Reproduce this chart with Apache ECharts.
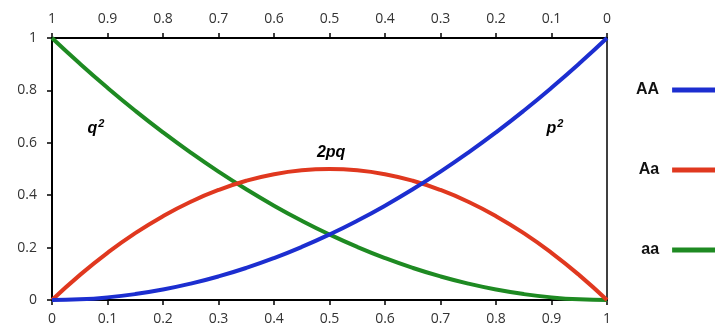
<!DOCTYPE html>
<html>
<head>
<meta charset="utf-8">
<script src="https://cdn.jsdelivr.net/npm/echarts@6/dist/echarts.min.js"></script>
<style>
html, body { margin: 0; padding: 0; background: #fff; }
#chart { width: 715px; height: 328px; }
</style>
</head>
<body>
<div id="chart"></div>
<script>
// allele frequency p (bottom axis), q = 1 - p on top
var pValues = [0, 0.05, 0.1, 0.15, 0.2, 0.25, 0.3, 0.35, 0.4, 0.45, 0.5, 0.55, 0.6, 0.65, 0.7, 0.75, 0.8, 0.85, 0.9, 0.95, 1];
var AA = [0, 0.0025, 0.01, 0.0225, 0.04, 0.0625, 0.09, 0.1225, 0.16, 0.2025, 0.25, 0.3025, 0.36, 0.4225, 0.49, 0.5625, 0.64, 0.7225, 0.81, 0.9025, 1];
var Aa = [0, 0.095, 0.18, 0.255, 0.32, 0.375, 0.42, 0.455, 0.48, 0.495, 0.5, 0.495, 0.48, 0.455, 0.42, 0.375, 0.32, 0.255, 0.18, 0.095, 0];
var aa = [1, 0.9025, 0.81, 0.7225, 0.64, 0.5625, 0.49, 0.4225, 0.36, 0.3025, 0.25, 0.2025, 0.16, 0.1225, 0.09, 0.0625, 0.04, 0.0225, 0.01, 0.0025, 0];
var seriesNames = ['AA', 'Aa', 'aa'];
var seriesColors = ['#1c2ed0', '#e0381f', '#1e8a22'];
// curve annotations: text, p, frequency
var curveLabels = [['q', 0.079, 0.656], ['2pq', 0.503, 0.561], ['p', 0.906, 0.656]];

var chart = echarts.init(document.getElementById('chart'));
var font = 'Open Sans';

function pairs(ys) {
    var out = [];
    pValues.forEach(function(p, i) { out.push([p, ys[i]]); });
    return out;
}

var lab = { fontFamily: font, fontSize: 14, color: '#333' };
var axLine = { show: true, onZero: false, lineStyle: { color: '#000', width: 2 } };
var tick = { show: true, length: 5, lineStyle: { color: '#000', width: 1.5 } };

var series = [AA, Aa, aa].map(function(d, i) {
    return {
        name: seriesNames[i], type: 'line', data: pairs(d), smooth: true,
        symbol: 'none', lineStyle: { width: 4, color: seriesColors[i] },
        itemStyle: { color: seriesColors[i] }, z: 3 - i
    };
});

series.push({
    name: 'labels', type: 'scatter', symbolSize: 1, z: 5, silent: true,
    itemStyle: { color: '#fff', opacity: 0 },
    data: curveLabels.map(function(c) { return { value: [c[1], c[2]], name: c[0] }; }),
    label: {
        show: true, position: 'inside', color: '#000', opacity: 1, textBorderWidth: 0,
        formatter: function(p) {
            return p.name === '2pq' ? '{t|2pq}' : '{t|' + p.name + '}{s|2}';
        },
        rich: {
            t: { fontFamily: 'Liberation Sans', fontSize: 16, fontWeight: 'bold', fontStyle: 'italic', color: '#000', textBorderWidth: 0 },
            s: { fontFamily: 'Liberation Sans', fontSize: 11, fontWeight: 'bold', fontStyle: 'italic', color: '#000', textBorderWidth: 0, verticalAlign: 'top', padding: [0, 0, 9, 1] }
        }
    }
});

var option = {
    animation: false,
    backgroundColor: '#fff',
    grid: { left: 52, right: 108, top: 38, bottom: 28 },
    legend: {
        orient: 'vertical', left: 631, top: 77, align: 'right',
        itemGap: 64, itemWidth: 46, itemHeight: 5, icon: 'rect',
        textStyle: { fontFamily: 'Liberation Sans', fontSize: 16, fontWeight: 'bold', color: '#111', padding: [0, 8, 0, 0] },
        data: seriesNames
    },
    xAxis: [{
        type: 'value', min: 0, max: 1, interval: 0.1, position: 'bottom',
        axisLine: axLine, axisTick: tick, splitLine: { show: false },
        axisLabel: Object.assign({ margin: 12 }, lab)
    }, {
        type: 'value', min: 0, max: 1, interval: 0.1, position: 'top', inverse: true,
        axisLine: axLine, axisTick: tick, splitLine: { show: false },
        axisLabel: Object.assign({ margin: 12 }, lab)
    }],
    yAxis: [{
        type: 'value', min: 0, max: 1, interval: 0.2, position: 'left',
        axisLine: axLine, axisTick: tick, splitLine: { show: false },
        axisLabel: Object.assign({ margin: 15 }, lab)
    }, {
        type: 'value', min: 0, max: 1, position: 'right',
        axisLine: { show: true, onZero: false, lineStyle: { color: '#000', width: 1.5 } },
        axisTick: { show: false }, axisLabel: { show: false }, splitLine: { show: false }
    }],
    series: series
};
chart.setOption(option);
</script>
</body>
</html>
